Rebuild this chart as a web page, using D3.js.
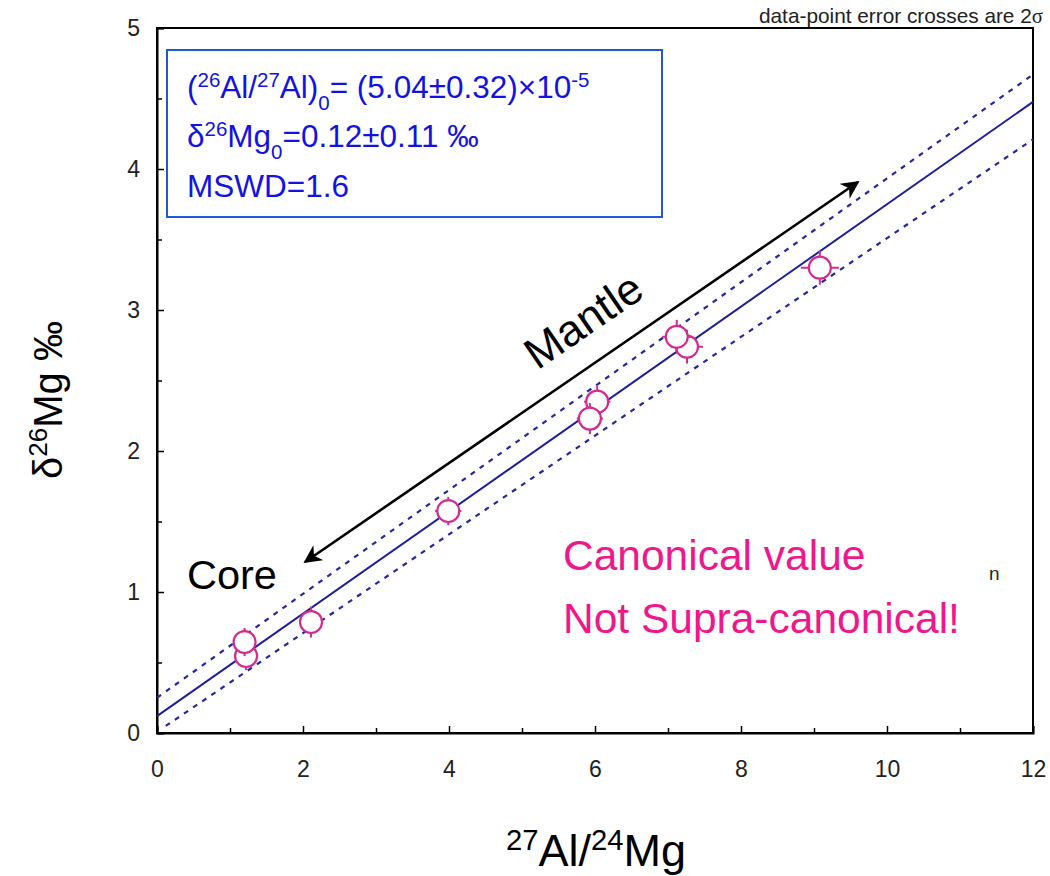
<!DOCTYPE html>
<meta charset="utf-8">
<head>
  <style>
    body { margin: 0; background: #fff; }
    svg text { font-family: "Liberation Sans", Arial, sans-serif; }
  </style>
  <script src="https://cdn.jsdelivr.net/npm/d3@7"></script>
</head>
<body>
<div id="viz"></div>
<script>
// data points (27Al/24Mg, d26Mg) with 2 sigma errors, listed in drawing order
var xVals = [1.22, 1.20, 2.11, 3.99, 6.03, 5.93, 7.26, 7.12, 9.08];
var yVals = [0.546, 0.645, 0.787, 1.574, 2.35, 2.23, 2.74, 2.81, 3.30];
var xErr  = [0.15, 0.15, 0.15, 0.18, 0.18, 0.18, 0.22, 0.20, 0.26];
var yErr  = [0.10, 0.10, 0.11, 0.10, 0.11, 0.11, 0.12, 0.12, 0.12];

// isochron fit and its error envelope
var fitIntercept = 0.12, fitSlope = 0.363;
var upperEnv = [[0, 0.25], [12, 4.67]];
var lowerEnv = [[0.12, 0.05], [12, 4.21]];

var xTicks = [0, 2, 4, 6, 8, 10, 12];
var xMinor = [1, 3, 5, 7, 9, 11];
var yTicks = [0, 1, 2, 3, 4, 5];
var yMinor = [0.5, 1.5, 2.5, 3.5, 4.5];

var W = 1050, H = 876;
var pL = 157, pR = 1033, pT = 28, pB = 733;

var svg = d3.select("#viz").append("svg")
    .attr("width", W).attr("height", H);

var x = d3.scaleLinear().domain([0, 12]).range([pL, pR]);
var y = d3.scaleLinear().domain([0, 5]).range([pB, pT]);
var fmt = d3.format("d");

/* frame */
svg.append("rect")
    .attr("x", pL).attr("y", pT)
    .attr("width", pR - pL).attr("height", pB - pT)
    .attr("fill", "none").attr("stroke", "#000").attr("stroke-width", 2);

function styleAxis(g) {
  g.selectAll(".domain").attr("stroke", "#000").attr("stroke-width", 2);
  g.selectAll(".tick line").attr("stroke", "#000").attr("stroke-width", 1.5);
  g.selectAll(".tick text").attr("font-size", 23).attr("fill", "#222")
    .attr("font-family", "'Liberation Sans', Arial, sans-serif");
}

/* axes with inward ticks */
svg.append("g")
    .attr("transform", "translate(0," + pB + ")")
    .call(d3.axisBottom(x).tickValues(xTicks).tickFormat(fmt).tickSize(-7).tickPadding(28))
    .call(styleAxis);
svg.append("g")
    .attr("transform", "translate(0," + pB + ")")
    .call(d3.axisBottom(x).tickValues(xMinor).tickSize(-5).tickFormat(""))
    .call(styleAxis)
    .call(function(g) { g.select(".domain").remove(); });
svg.append("g")
    .attr("transform", "translate(" + pL + ",0)")
    .call(d3.axisLeft(y).tickValues(yTicks).tickFormat(fmt).tickSize(-7).tickPadding(17))
    .call(styleAxis);
svg.append("g")
    .attr("transform", "translate(" + pL + ",0)")
    .call(d3.axisLeft(y).tickValues(yMinor).tickSize(-5).tickFormat(""))
    .call(styleAxis)
    .call(function(g) { g.select(".domain").remove(); });

/* fit line and envelope */
var line = d3.line().x(function(d) { return x(d[0]); }).y(function(d) { return y(d[1]); });
svg.append("path")
    .attr("d", line([[0, fitIntercept], [12, fitIntercept + 12 * fitSlope]]))
    .attr("fill", "none").attr("stroke", "#1f1f9c").attr("stroke-width", 2);
[upperEnv, lowerEnv].forEach(function(env) {
  svg.append("path")
      .attr("d", line(env))
      .attr("fill", "none").attr("stroke", "#26269e")
      .attr("stroke-width", 2.2).attr("stroke-dasharray", "5,6");
});

/* data points: error crosses + open circles */
var pts = svg.selectAll(".pt")
  .data(xVals.map(function(v, i) { return i; }))
  .enter().append("g").attr("class", "pt");
pts.append("line")
    .attr("x1", function(i) { return x(xVals[i] - xErr[i]); })
    .attr("x2", function(i) { return x(xVals[i] + xErr[i]); })
    .attr("y1", function(i) { return y(yVals[i]); })
    .attr("y2", function(i) { return y(yVals[i]); })
    .attr("stroke", "#d42b8e").attr("stroke-width", 2);
pts.append("line")
    .attr("x1", function(i) { return x(xVals[i]); })
    .attr("x2", function(i) { return x(xVals[i]); })
    .attr("y1", function(i) { return y(yVals[i] - yErr[i]); })
    .attr("y2", function(i) { return y(yVals[i] + yErr[i]); })
    .attr("stroke", "#d42b8e").attr("stroke-width", 2);
pts.append("circle")
    .attr("cx", function(i) { return x(xVals[i]); })
    .attr("cy", function(i) { return y(yVals[i]); })
    .attr("r", 11)
    .attr("fill", "#fff").attr("stroke", "#d42b8e").attr("stroke-width", 2.2);

/* helper for text with super/subscripts */
function richText(sel, parts, size) {
  parts.forEach(function(p) {
    var t = sel.append("tspan").text(p[0]);
    if (p[1] === "sup") t.attr("font-size", size * 0.65).attr("baseline-shift", "super");
    if (p[1] === "sub") t.attr("font-size", size * 0.65).attr("baseline-shift", "sub");
  });
}

/* result box */
svg.append("rect")
    .attr("x", 167).attr("y", 50).attr("width", 495).attr("height", 167)
    .attr("fill", "#fff").attr("stroke", "#1f5ad6").attr("stroke-width", 2);
var boxLines = [
  [["("], ["26", "sup"], ["Al/"], ["27", "sup"], ["Al)"], ["0", "sub"], ["= (5.04\u00b10.32)\u00d710"], ["-5", "sup"]],
  [["\u03b4"], ["26", "sup"], ["Mg"], ["0", "sub"], ["=0.12\u00b10.11 \u2030"]],
  [["MSWD=1.6"]]
];
var boxBase = [98, 147, 197];
boxLines.forEach(function(parts, i) {
  var t = svg.append("text").attr("x", 187).attr("y", boxBase[i])
      .attr("font-size", 31.5).attr("fill", "#1212e8");
  richText(t, parts, 31.5);
});

/* arrow core <-> mantle */
var defs = svg.append("defs");
defs.append("marker").attr("id", "ah")
    .attr("viewBox", "0 0 10 10").attr("refX", 9).attr("refY", 5)
    .attr("markerWidth", 7).attr("markerHeight", 7)
    .attr("orient", "auto-start-reverse").attr("markerUnits", "strokeWidth")
  .append("path").attr("d", "M0,0 L10,5 L0,10 L3,5 Z").attr("fill", "#000");
svg.append("line")
    .attr("x1", 305).attr("y1", 562).attr("x2", 858).attr("y2", 182)
    .attr("stroke", "#000").attr("stroke-width", 2.6)
    .attr("marker-start", "url(#ah)").attr("marker-end", "url(#ah)");

var ang = Math.atan2(182 - 562, 858 - 305) * 180 / Math.PI;
svg.append("text")
    .attr("transform", "translate(592,333) rotate(" + ang + ")")
    .attr("text-anchor", "middle").attr("font-size", 44).attr("fill", "#000")
    .text("Mantle");
svg.append("text").attr("x", 187).attr("y", 589)
    .attr("font-size", 41.5).attr("fill", "#000").text("Core");

svg.append("text").attr("x", 563).attr("y", 570)
    .attr("font-size", 42.5).attr("fill", "#f0168c").text("Canonical value");
svg.append("text").attr("x", 563).attr("y", 633)
    .attr("font-size", 42.5).attr("fill", "#f0168c").text("Not Supra-canonical!");
svg.append("text").attr("x", 989).attr("y", 580)
    .attr("font-size", 19).attr("fill", "#222").text("n");

var note = svg.append("text").attr("x", 1043).attr("y", 23)
    .attr("text-anchor", "end").attr("font-size", 20.8).attr("fill", "#222");
note.append("tspan").text("data-point error crosses are 2");
note.append("tspan").attr("font-family", "'Liberation Serif', serif").text("\u03c3");

/* axis titles */
var xl = svg.append("text").attr("x", 596).attr("y", 866)
    .attr("text-anchor", "middle").attr("font-size", 45).attr("fill", "#000");
richText(xl, [["27", "sup"], ["Al/"], ["24", "sup"], ["Mg"]], 45);

var yl = svg.append("text").attr("transform", "translate(62,400) rotate(-90)")
    .attr("text-anchor", "middle").attr("font-size", 40).attr("fill", "#000");
richText(yl, [["\u03b4"], ["26", "sup"], ["Mg \u2030"]], 40);
</script>
</body>
